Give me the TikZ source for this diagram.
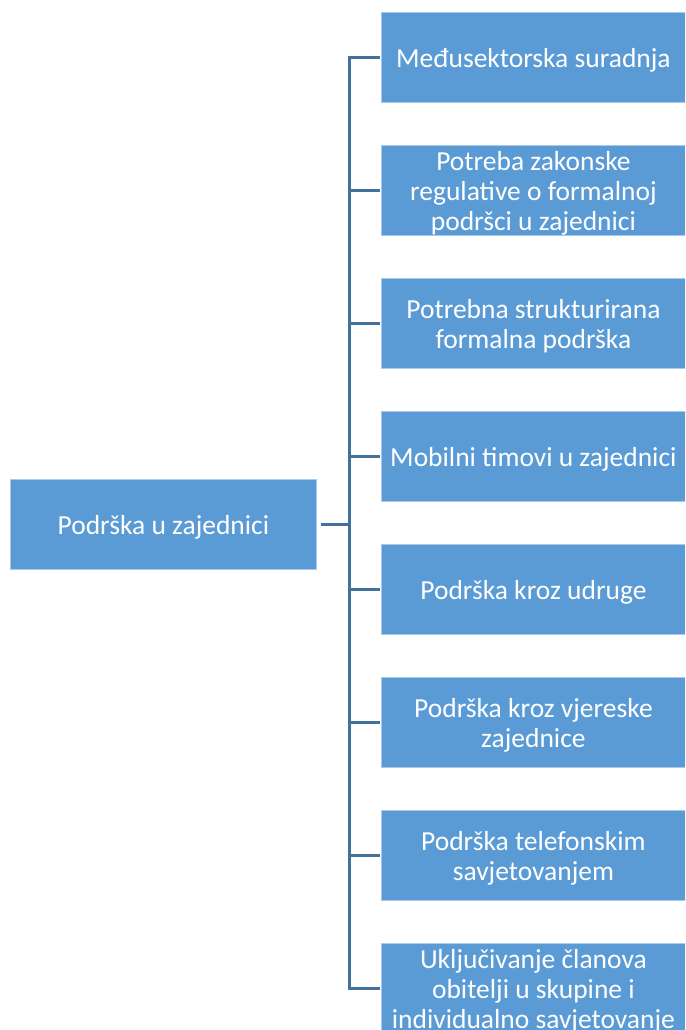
\documentclass[tikz,border=0pt]{standalone}
\usepackage{fontspec}
\setmainfont{Carlito}
\definecolor{boxfill}{HTML}{5B9BD5}
\definecolor{boxedge}{HTML}{A9C8EA}
\definecolor{linkcol}{HTML}{41719C}
\begin{document}
\begin{tikzpicture}[x=1pt,y=-1pt,
  item/.style={draw=boxedge,line width=0.8pt,fill=boxfill,
    minimum width=304pt,minimum height=90pt,inner sep=0pt,anchor=north west},
  root/.style={item,minimum width=306pt},
  caption/.style={text=white,inner sep=0pt,align=center,
    font=\fontsize{27.5}{30}\selectfont},
  link/.style={draw=linkcol,line width=3pt}]
\useasboundingbox (0,0) rectangle (685,1030);
\clip (0,0) rectangle (685,1030);
% boxes
\node[root] (r) at (10,479) {};
\node[item] (c1) at (381,12) {};
\node[item] (c2) at (381,145) {};
\node[item] (c3) at (381,278) {};
\node[item] (c4) at (381,411) {};
\node[item] (c5) at (381,544) {};
\node[item] (c6) at (381,677) {};
\node[item] (c7) at (381,810) {};
\node[item] (c8) at (381,943) {};
% captions, set a little below the box centres
\node[caption] (tr) at ([yshift=-2.5pt]r.center) {Podrška u zajednici};
\node[caption] (t1) at ([yshift=-2.5pt]c1.center) {Međusektorska suradnja};
\node[caption] (t2) at ([yshift=-2.5pt]c2.center) {Potreba zakonske\\regulative o formalnoj\\podršci u zajednici};
\node[caption] (t3) at ([yshift=-2.5pt]c3.center) {Potrebna strukturirana\\formalna podrška};
\node[caption] (t4) at ([yshift=-2.5pt]c4.center) {Mobilni timovi u zajednici};
\node[caption] (t5) at ([yshift=-2.5pt]c5.center) {Podrška kroz udruge};
\node[caption] (t6) at ([yshift=-2.5pt]c6.center) {Podrška kroz vjereske\\zajednice};
\node[caption] (t7) at ([yshift=-2.5pt]c7.center) {Podrška telefonskim\\savjetovanjem};
\node[caption] (t8) at ([yshift=-2.5pt]c8.center) {Uključivanje članova\\obitelji u skupine i\\individualno savjetovanje};
% bracket connectors
\coordinate (bus) at (349,0);
\draw[link] ([xshift=4pt]r.east) -- (r.east -| bus);
\foreach \i in {1,...,8}{
  \draw[link,line cap=rect] (r.east -| bus) |- ([xshift=-3pt]c\i.west);
}
\end{tikzpicture}
\end{document}
